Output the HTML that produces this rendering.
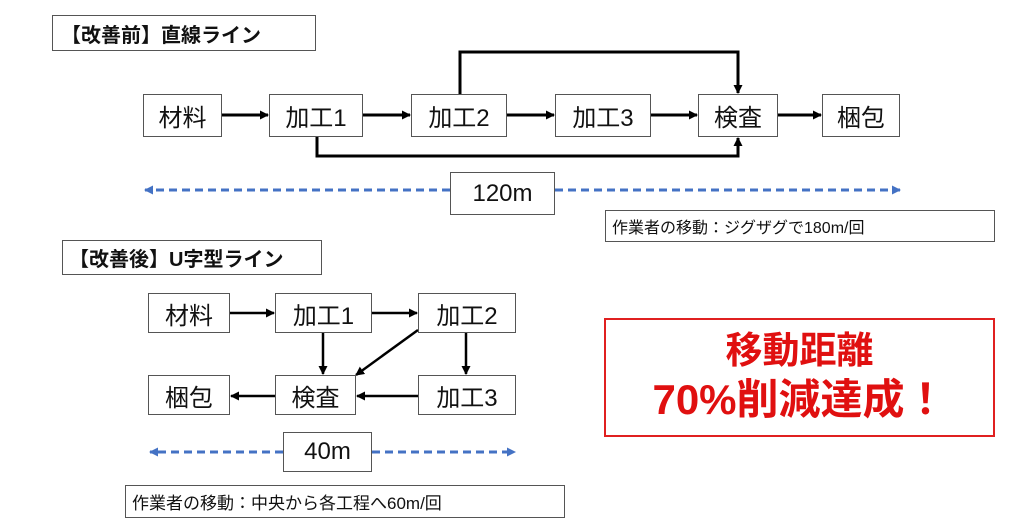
<!DOCTYPE html>
<html><head><meta charset="utf-8"><style>
body{margin:0;width:1024px;height:530px;background:#fff;position:relative;overflow:hidden;font-family:"Liberation Sans","Noto Sans CJK JP",sans-serif;}
.b{position:absolute;border:1px solid #555;background:#fff;box-sizing:border-box;display:flex;align-items:center;justify-content:center;color:#111;}
svg{position:absolute;left:0;top:0}
</style></head><body>
<svg width="1024" height="530">
<defs>
<marker id="a" markerWidth="9" markerHeight="9" refX="8" refY="4.5" orient="auto" markerUnits="userSpaceOnUse"><path d="M0,0 L9,4.5 L0,9z" fill="#000"/></marker>
<marker id="d" markerWidth="9" markerHeight="9" refX="8" refY="4.5" orient="auto" markerUnits="userSpaceOnUse"><path d="M0,0 L9,4.5 L0,9z" fill="#4472c4"/></marker>
</defs>
<g stroke="#000" stroke-width="3" fill="none" marker-end="url(#a)">
<line x1="222" y1="115" x2="268" y2="115"/>
<line x1="363" y1="115" x2="410" y2="115"/>
<line x1="507" y1="115" x2="554" y2="115"/>
<line x1="651" y1="115" x2="697" y2="115"/>
<line x1="778" y1="115" x2="821" y2="115"/>
<polyline points="460,94 460,52 738,52 738,93"/>
<polyline points="317,137 317,156 738,156 738,138"/>
<line x1="230" y1="313" x2="274" y2="313" stroke-width="2.5"/>
<line x1="372" y1="313" x2="417" y2="313" stroke-width="2.5"/>
<line x1="323" y1="333" x2="323" y2="374" stroke-width="2.5"/>
<line x1="466" y1="333" x2="466" y2="374" stroke-width="2.5"/>
<line x1="418" y1="330" x2="356" y2="375" stroke-width="2.5"/>
<line x1="418" y1="396" x2="357" y2="396" stroke-width="2.5"/>
<line x1="275" y1="396" x2="231" y2="396" stroke-width="2.5"/>
</g>
<g stroke="#4472c4" stroke-width="3" stroke-dasharray="8,5" fill="none" marker-end="url(#d)">
<line x1="450" y1="190" x2="145" y2="190"/>
<line x1="555" y1="190" x2="900" y2="190"/>
<line x1="283" y1="452" x2="150" y2="452"/>
<line x1="372" y1="452" x2="515" y2="452"/>
</g>
</svg>
<div class="b" style="left:52px;top:15px;width:264px;height:36px;font-weight:bold;font-size:20px;justify-content:flex-start;padding-left:8px">【改善前】直線ライン</div>
<div class="b" style="left:143px;top:94px;width:79px;height:43px;font-size:24px">材料</div>
<div class="b" style="left:269px;top:94px;width:94px;height:43px;font-size:24px">加工1</div>
<div class="b" style="left:411px;top:94px;width:96px;height:43px;font-size:24px">加工2</div>
<div class="b" style="left:555px;top:94px;width:96px;height:43px;font-size:24px">加工3</div>
<div class="b" style="left:698px;top:94px;width:80px;height:43px;font-size:24px">検査</div>
<div class="b" style="left:822px;top:94px;width:78px;height:43px;font-size:24px">梱包</div>
<div class="b" style="left:450px;top:172px;width:105px;height:43px;font-size:24px">120m</div>
<div class="b" style="left:605px;top:210px;width:390px;height:32px;font-size:16px;justify-content:flex-start;padding-left:6px">作業者の移動：ジグザグで180m/回</div>
<div class="b" style="left:62px;top:240px;width:260px;height:35px;font-weight:bold;font-size:20px;justify-content:flex-start;padding-left:6px">【改善後】U字型ライン</div>
<div class="b" style="left:148px;top:293px;width:82px;height:40px;font-size:24px">材料</div>
<div class="b" style="left:275px;top:293px;width:97px;height:40px;font-size:24px">加工1</div>
<div class="b" style="left:418px;top:293px;width:98px;height:40px;font-size:24px">加工2</div>
<div class="b" style="left:148px;top:375px;width:82px;height:40px;font-size:24px">梱包</div>
<div class="b" style="left:275px;top:375px;width:81px;height:40px;font-size:24px">検査</div>
<div class="b" style="left:418px;top:375px;width:98px;height:40px;font-size:24px">加工3</div>
<div class="b" style="left:283px;top:432px;width:89px;height:40px;font-size:24px">40m</div>
<div class="b" style="left:125px;top:485px;width:440px;height:33px;font-size:17px;justify-content:flex-start;padding-left:6px">作業者の移動：中央から各工程へ60m/回</div>
<div class="b" style="left:604px;top:318px;width:391px;height:119px;border:2px solid #e02020;flex-direction:column;color:#e01010;font-weight:bold;line-height:1.25">
<div style="font-size:37px">移動距離</div><div style="font-size:42px">70%削減達成！</div></div>
</body></html>
